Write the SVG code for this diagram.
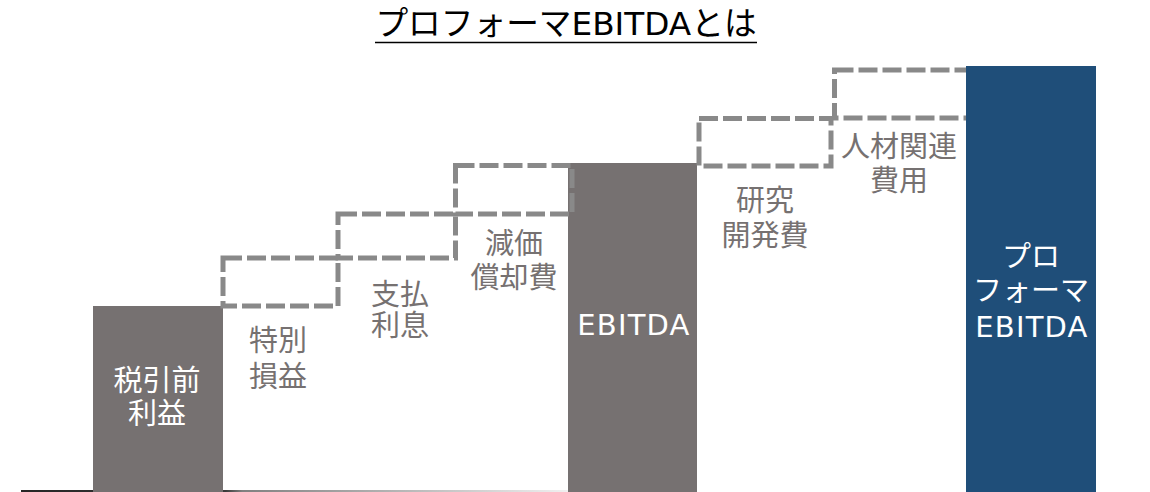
<svg xmlns="http://www.w3.org/2000/svg" width="1150" height="492" viewBox="0 0 1150 492">
<defs>
<linearGradient id="baseGrad" x1="21" y1="0" x2="574" y2="0" gradientUnits="userSpaceOnUse">
<stop offset="0" stop-color="#262626"/>
<stop offset="0.37" stop-color="#3a3a3a"/>
<stop offset="0.4" stop-color="#808080"/>
<stop offset="1" stop-color="#f2f2f2"/>
</linearGradient>
</defs>
<style>
.t{font-family:"DejaVu Sans","Noto Sans CJK JP",sans-serif;font-size:29px;text-anchor:middle}
.lat{font-size:29px;letter-spacing:1.2px}
.lbl{fill:#767171}
.wht{fill:#fff}
.gray{fill:#767171}
.blue{fill:#1F4E79}
.dash{fill:none;stroke:#898989;stroke-width:5;stroke-dasharray:19 5}
.title{font-family:"DejaVu Sans","Noto Sans CJK JP",sans-serif;font-size:32.7px;fill:#000;text-anchor:middle}
</style>
<rect x="0" y="0" width="1150" height="492" fill="#fff"/>
<g id="title">
<text class="title" x="566" y="35">プロフォーマEBITDAとは</text>
<line x1="375" y1="42.5" x2="757" y2="42.5" stroke="#000" stroke-width="1.5"/>
</g>
<g id="connectors">
<line x1="21" y1="491" x2="574" y2="491" stroke="url(#baseGrad)" stroke-width="2"/>
</g>
<g id="node-pretax">
<rect class="gray" x="93" y="306" width="130" height="186"/>
<text class="t wht" x="157" y="391">税引前</text>
<text class="t wht" x="157" y="424">利益</text>
</g>
<g id="node-ebitda">
<rect class="gray" x="568" y="163" width="129" height="329"/>
<text class="t lat wht" x="634" y="335">EBITDA</text>
</g>
<g id="node-special">
<rect class="dash" x="223" y="258" width="115" height="48"/>
<text class="t lbl" x="278" y="350.5">特別</text>
<text class="t lbl" x="278" y="386.5">損益</text>
</g>
<g id="node-interest">
<rect class="dash" x="338" y="214" width="117.5" height="44"/>
<text class="t lbl" x="400" y="305">支払</text>
<text class="t lbl" x="400" y="336">利息</text>
</g>
<g id="node-depreciation">
<rect class="dash" x="455.5" y="165.5" width="116.5" height="48.5"/>
<text class="t lbl" x="514" y="254">減価</text>
<text class="t lbl" x="514" y="287.5">償却費</text>
</g>
<g id="node-rnd">
<rect class="dash" x="699" y="118.5" width="132" height="47.5"/>
<text class="t lbl" x="765" y="211">研究</text>
<text class="t lbl" x="765" y="246">開発費</text>
</g>
<g id="node-personnel">
<rect class="dash" x="834.5" y="70" width="134" height="48"/>
<text class="t lbl" x="899" y="157">人材関連</text>
<text class="t lbl" x="899" y="191">費用</text>
</g>
<g id="node-proforma">
<rect class="blue" x="966" y="66" width="130" height="426"/>
<text class="t wht" x="1031" y="267">プロ</text>
<text class="t wht" x="1031" y="301">フォーマ</text>
<text class="t lat wht" x="1032" y="336.5">EBITDA</text>
</g>
</svg>
